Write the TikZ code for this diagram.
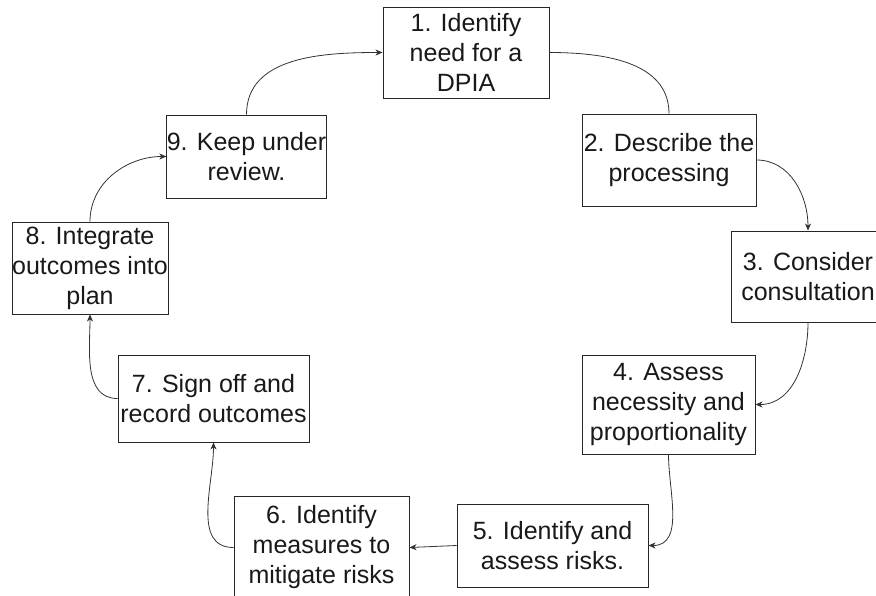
\documentclass[tikz,border=0pt]{standalone}
\usepackage{fontspec}
\setmainfont{Liberation Sans}
\usetikzlibrary{arrows.meta}
\begin{document}
\begin{tikzpicture}[x=1pt,y=-1pt,
  box/.style={draw=black!85,line width=0.9pt,fill=white,align=center,inner sep=0pt,
    font=\fontsize{25}{30}\selectfont,text=black!90},
  link/.style={draw=black!80,line width=0.8pt,-{Stealth[length=7pt,width=6pt,inset=2pt]}},
  plain/.style={draw=black!80,line width=0.8pt}]
\useasboundingbox (0,0) rectangle (876,595);
\begin{scope}
\clip (0,0) rectangle (876,595);
\node[box,minimum width=166pt,minimum height=91pt] (n1) at (466,52.5) {1. Identify\\need for a\\DPIA};
\node[box,minimum width=174pt,minimum height=92pt] (n2) at (669,160) {2. Describe the\\processing};
\node[box,minimum width=154pt,minimum height=91pt] (n3) at (808,276.5) {3. Consider\\consultation};
\node[box,minimum width=173pt,minimum height=99pt] (n4) at (668.5,404.5) {4. Assess\\necessity and\\proportionality};
\node[box,minimum width=191pt,minimum height=83pt] (n5) at (552.5,545.5) {5. Identify and\\assess risks.};
\node[box,minimum width=175pt,minimum height=103pt] (n6) at (321.5,547.5) {6. Identify\\measures to\\mitigate risks};
\node[box,minimum width=191pt,minimum height=87pt] (n7) at (213.5,398.5) {7. Sign off and\\record outcomes};
\node[box,minimum width=156pt,minimum height=92pt] (n8) at (90,268) {8. Integrate\\outcomes into\\plan};
\node[box,minimum width=157pt,minimum height=83pt] (n9) at (246.5,156.5) {9. Keep under\\review.};
\end{scope}
\draw[link] (n9.north) to[out=90,in=180] (n1.west);
\draw[plain] (n1.east) to[out=0,in=90] (n2.north);
\draw[link] (n2.east) to[out=0,in=90] (n3.north);
\draw[link] (n3.south) to[out=-90,in=0] (n4.east);
\draw[link] (n4.south) to[out=-90,in=0] (n5.east);
\draw[link] (n5.west) -- (n6.east);
\draw[link] (n6.west) to[out=180,in=-90] (n7.south);
\draw[link] (n7.west) to[out=180,in=-90] (n8.south);
\draw[link] (n8.north) to[out=90,in=180] (n9.west);
\end{tikzpicture}
\end{document}
